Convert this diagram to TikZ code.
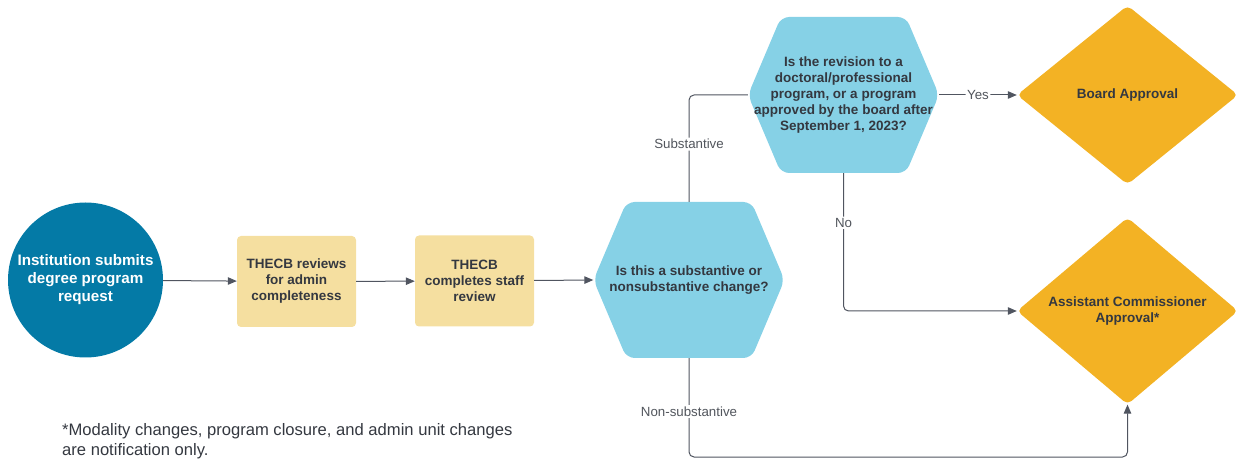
\documentclass[tikz,border=0pt]{standalone}
\usepackage{fontspec}
\setmainfont{Liberation Sans}
\usepackage{tikz}
\usetikzlibrary{shapes.geometric,arrows.meta}

\definecolor{startblue}{RGB}{4,122,166}
\definecolor{stepsand}{RGB}{245,223,160}
\definecolor{askblue}{RGB}{134,209,230}
\definecolor{approvegold}{RGB}{243,178,36}
\definecolor{inkgray}{RGB}{52,56,64}
\definecolor{linegray}{RGB}{80,85,96}

\begin{document}
\begin{tikzpicture}[x=1pt,y=-1pt,
  flow/.style={draw=linegray, line width=1pt, rounded corners=5pt},
  tip/.style={-{Triangle[length=9pt,width=7.5pt]}},
  lbl/.style={fill=white, inner sep=1.5pt, text=inkgray!85, font=\fontsize{13.3}{15}\selectfont},
  startnode/.style={circle, fill=startblue, minimum size=155pt, inner sep=0pt, align=center,
    text=white, font=\bfseries\fontsize{15.2}{18}\selectfont},
  stepbox/.style={rectangle, rounded corners=4pt, fill=stepsand, minimum width=119pt,
    minimum height=91pt, inner sep=0pt, align=center, text=inkgray,
    font=\bfseries\fontsize{13.5}{16}\selectfont},
  askhex/.style={rectangle, minimum width=191pt, minimum height=156pt, inner sep=0pt,
    align=center, text=inkgray, font=\bfseries\fontsize{13.5}{16}\selectfont,
    path picture={\fill[askblue, rounded corners=8pt]
      (path picture bounding box.west)
      -- ([xshift=33pt]path picture bounding box.north west)
      -- ([xshift=-33pt]path picture bounding box.north east)
      -- (path picture bounding box.east)
      -- ([xshift=-33pt]path picture bounding box.south east)
      -- ([xshift=33pt]path picture bounding box.south west) -- cycle;}},
  approve/.style={diamond, rounded corners=5pt, fill=approvegold, minimum width=221pt,
    minimum height=179pt, inner sep=0pt, align=center, text=inkgray,
    font=\bfseries\fontsize{13.5}{16}\selectfont}]

  \useasboundingbox (0,0) rectangle (1240,462);

  \node[startnode] (submit) at (85.5,280) {Institution submits\\degree program\\request};
  \node[stepbox] (admin) at (296.5,281.5) {THECB reviews\\for admin\\completeness};
  \node[stepbox] (staff) at (474.5,281) {THECB\\completes staff\\review};
  \node[askhex] (kind) at (689,280) {Is this a substantive or\\nonsubstantive change?};
  \node[askhex] (level) at (843.5,95) {Is the revision to a\\doctoral/professional\\program, or a program\\approved by the board after\\September 1, 2023?};
  \node[approve] (board) at (1127.5,95) {Board Approval};
  \node[approve] (assist) at (1127.5,311) {Assistant Commissioner\\Approval*};

  \coordinate (nsbend) at (689,457); % bottom run of the non-substantive line

  \draw[flow,tip] (submit) -- (admin);
  \draw[flow,tip] (admin) -- (staff);
  \draw[flow,tip] (staff) -- (kind.west);
  \draw[flow] (kind.north) |- node[lbl,pos=0.27] {Substantive} (level.west);
  \draw[flow,tip] (level.east) -- node[lbl] {Yes} (board.west);
  \draw[flow,tip] (level.south) |- node[lbl,pos=0.18] {No} (assist.west);
  \draw[flow,tip] (kind.south) -- node[lbl,pos=0.54] {Non-substantive} (nsbend) -| (assist.south);

  \node[anchor=west, align=left, inner sep=0pt, text=inkgray,
    font=\fontsize{16.6}{20}\selectfont] (note) at (62,441)
    {*Modality changes, program closure, and admin unit changes\\are notification only.};
\end{tikzpicture}
\end{document}
